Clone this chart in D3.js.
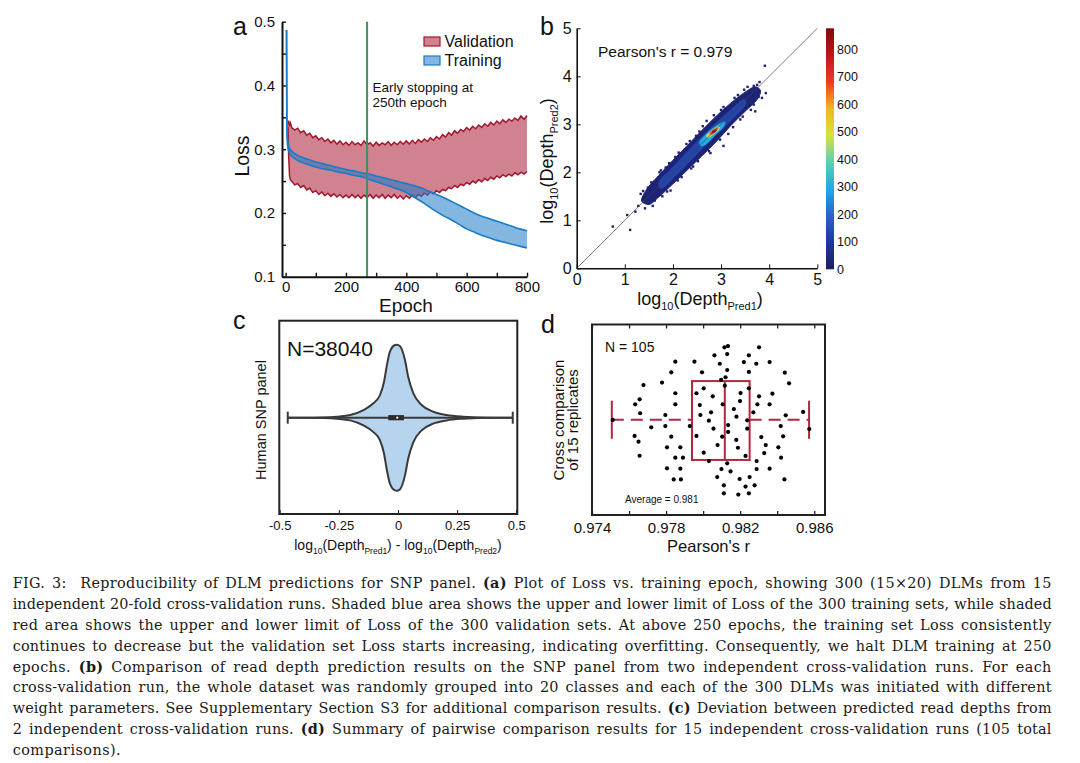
<!DOCTYPE html>
<html>
<head>
<meta charset="utf-8">
<script src="https://cdn.jsdelivr.net/npm/d3@7"></script>
<style>
body { margin: 0; background: #fff; }
svg { display: block; }
text { font-family: "Liberation Sans", Arial, sans-serif; fill: #111; }
.cap { font-family: "DejaVu Serif", "Liberation Serif", serif; font-size: 14.4px; white-space: pre; fill: #1a1a1a; }
</style>
</head>
<body>
<svg></svg>
<script>
// ---------- panel a: loss vs epoch ----------
let trainEpochs = [3, 4, 6, 10, 15, 25].concat(d3.range(50, 801, 25))
let trainHi = [0.487, 0.350, 0.318, 0.306, 0.300, 0.295,
  0.288, 0.284, 0.280, 0.277, 0.274, 0.271, 0.268, 0.266, 0.263, 0.261, 0.258, 0.255, 0.252, 0.249, 0.246, 0.243,
  0.239, 0.234, 0.229, 0.224, 0.218, 0.212, 0.206, 0.200, 0.195, 0.191, 0.187, 0.183, 0.179, 0.175, 0.172]
let trainLo = [0.487, 0.345, 0.308, 0.298, 0.292, 0.287,
  0.280, 0.276, 0.272, 0.269, 0.267, 0.264, 0.262, 0.259, 0.257, 0.253, 0.249, 0.245, 0.241, 0.237, 0.232, 0.225,
  0.218, 0.210, 0.202, 0.195, 0.189, 0.182, 0.175, 0.170, 0.165, 0.161, 0.157, 0.154, 0.151, 0.148, 0.145]

let valEpochs = [8, 10, 13, 16, 20].concat(d3.range(30, 801, 10))
let valHi = [0.338, 0.345, 0.336, 0.341, 0.334,
  0.330, 0.333, 0.326, 0.329, 0.322, 0.325, 0.318, 0.321, 0.315, 0.318,
  0.312, 0.316, 0.310, 0.314, 0.308, 0.313, 0.307, 0.311, 0.306, 0.312,
  0.307, 0.310, 0.306, 0.313, 0.307, 0.310, 0.305, 0.311, 0.306, 0.310,
  0.307, 0.312, 0.306, 0.311, 0.307, 0.312, 0.308, 0.313, 0.308, 0.314,
  0.309, 0.315, 0.311, 0.316, 0.312, 0.318, 0.314, 0.320, 0.316, 0.323,
  0.319, 0.326, 0.322, 0.329, 0.325, 0.331, 0.328, 0.334, 0.330, 0.336,
  0.332, 0.338, 0.334, 0.340, 0.336, 0.342, 0.338, 0.344, 0.340, 0.346,
  0.342, 0.347, 0.344, 0.349, 0.345, 0.352, 0.347, 0.353]
let valLo = [0.335, 0.290, 0.258, 0.252, 0.250,
  0.244, 0.246, 0.240, 0.243, 0.236, 0.239, 0.232, 0.235, 0.229, 0.233,
  0.227, 0.231, 0.226, 0.230, 0.225, 0.229, 0.224, 0.228, 0.224, 0.229,
  0.224, 0.228, 0.223, 0.228, 0.224, 0.229, 0.223, 0.228, 0.224, 0.229,
  0.223, 0.228, 0.224, 0.229, 0.223, 0.227, 0.222, 0.227, 0.223, 0.228,
  0.224, 0.229, 0.226, 0.231, 0.228, 0.233, 0.230, 0.235, 0.232, 0.237,
  0.235, 0.240, 0.238, 0.243, 0.240, 0.245, 0.243, 0.248, 0.245, 0.250,
  0.247, 0.252, 0.249, 0.254, 0.251, 0.256, 0.253, 0.258, 0.255, 0.260,
  0.257, 0.261, 0.258, 0.263, 0.260, 0.264, 0.261, 0.265]
let earlyStop = 270
let lossTicks = [0.1, 0.15, 0.2, 0.25, 0.3, 0.35, 0.4, 0.45, 0.5]
let epochTicks = [0, 100, 200, 300, 400, 500, 600, 700, 800]

// ---------- panel b: density scatter (level outlines) ----------
let densCounts = [20, 130, 300, 470, 660, 840]
let densShapes = [
  [[1.35, 1.40], [1.45, 1.64], [1.70, 1.93], [2.00, 2.25], [2.30, 2.56], [2.60, 2.87], [2.90, 3.17], [3.20, 3.44], [3.50, 3.67], [3.72, 3.78], [3.82, 3.70],
   [3.75, 3.52], [3.50, 3.27], [3.20, 2.97], [2.90, 2.64], [2.60, 2.34], [2.30, 2.05], [2.00, 1.76], [1.70, 1.48], [1.50, 1.33]],
  [[1.70, 1.78], [2.00, 2.11], [2.40, 2.54], [2.80, 2.94], [3.20, 3.30], [3.48, 3.52], [3.52, 3.44], [3.25, 3.12], [2.85, 2.73], [2.45, 2.33], [2.05, 1.92], [1.75, 1.66]],
  [[2.55, 2.62], [2.75, 2.85], [2.95, 3.00], [3.08, 3.05], [3.05, 2.95], [2.88, 2.78], [2.68, 2.58], [2.58, 2.55]],
  [[2.70, 2.77], [2.84, 2.89], [2.96, 2.96], [2.96, 2.90], [2.84, 2.79], [2.72, 2.72]],
  [[2.76, 2.81], [2.87, 2.90], [2.93, 2.92], [2.90, 2.86], [2.80, 2.79]],
  [[2.81, 2.84], [2.88, 2.89], [2.90, 2.87], [2.83, 2.82]]
]
let outX = [0.75, 1.11, 1.05, 1.22, 1.28, 1.33, 1.42, 1.48, 1.58, 1.62, 1.78, 1.85, 1.95, 2.05, 2.18, 2.35, 2.42, 2.55, 2.70, 2.78,
  3.05, 3.00, 3.15, 3.28, 3.40, 3.55, 3.62, 3.71, 3.80, 3.85, 3.93, 3.91, 3.75, 3.68, 2.25, 1.72,
  1.55, 1.75, 1.92, 2.12, 2.28, 2.48, 2.62, 2.85, 3.05, 3.35, 3.48, 1.62, 1.88, 2.10, 2.38, 2.52, 2.75, 2.98, 3.25, 3.45, 3.68, 3.78, 1.45, 1.38]
let outY = [0.87, 0.80, 1.11, 1.18, 1.30, 1.55, 1.25, 1.68, 1.30, 1.80, 1.50, 2.10, 1.62, 2.32, 1.90, 2.65, 2.12, 2.85, 3.07, 2.40,
  2.55, 3.30, 2.80, 3.55, 3.10, 3.78, 3.30, 3.27, 3.88, 3.55, 3.65, 4.22, 3.82, 3.80, 2.48, 2.00,
  1.79, 2.04, 2.19, 2.41, 2.59, 2.76, 2.96, 3.19, 3.36, 3.61, 3.72, 1.41, 1.60, 1.83, 2.08, 2.23, 2.44, 2.68, 2.94, 3.16, 3.41, 3.57, 1.46, 1.61]
let depthTicks = [0, 1, 2, 3, 4, 5]
let cbarTicks = [0, 100, 200, 300, 400, 500, 600, 700, 800]
let cbarMax = 876

// ---------- panel c: violin ----------
let vX = [-0.466, -0.40, -0.315, -0.258, -0.202, -0.146, -0.104, -0.076, -0.059, -0.048, -0.034, -0.0126, -0.005, 0.008, 0.0295, 0.043, 0.065, 0.10, 0.149, 0.205, 0.275, 0.40, 0.485]
let vDens = [0, 0, 0.004, 0.014, 0.037, 0.105, 0.197, 0.311, 0.493, 0.699, 0.904, 0.996, 1.0, 0.982, 0.790, 0.562, 0.334, 0.174, 0.082, 0.037, 0.014, 0, 0]
let vBox = { min: -0.466, q1: -0.041, med: -0.003, q3: 0.025, max: 0.485 }
let devTicks = [-0.5, -0.25, 0, 0.25, 0.5]

// ---------- panel d: pairwise pearson r ----------
let pearsonR = [0.97850, 0.97953, 0.97828, 0.97994, 0.97678, 0.97778, 0.97850, 0.97964, 0.98003, 0.97657,
  0.97633, 0.97850, 0.97982, 0.97660, 0.97796, 0.97985, 0.97512, 0.97720, 0.97796, 0.97928,
  0.97630, 0.97651, 0.97828, 0.97964, 0.97657, 0.97805, 0.97877, 0.97850, 0.97891, 0.98003,
  0.97805, 0.97877, 0.97841, 0.97880,
  0.98115, 0.98134, 0.98302, 0.98061, 0.98130, 0.98247, 0.98090, 0.98220, 0.98287, 0.98359,
  0.98130, 0.98247, 0.98441, 0.98097, 0.98121, 0.98464, 0.98117, 0.98247, 0.98202, 0.98052,
  0.98199, 0.98302, 0.98374, 0.98293, 0.98359, 0.98106, 0.98166, 0.98271, 0.98043, 0.98180,
  0.98446, 0.98540, 0.98031, 0.98238, 0.98419, 0.98056, 0.98135, 0.98135, 0.98238, 0.98573,
  0.98103, 0.98179, 0.98314, 0.98432, 0.98078, 0.98188, 0.98338, 0.98406, 0.98229, 0.98330,
  0.98031, 0.98130, 0.98421, 0.98099, 0.98148, 0.98289, 0.98289, 0.98359, 0.98076, 0.98197,
  0.98251, 0.98439, 0.98112, 0.98229, 0.98278, 0.98112, 0.98190, 0.98247]
let jitter = [0.805, 0.805, 0.749, 0.749, 0.682, 0.695, 0.639, 0.639, 0.665, 0.607,
  0.581, 0.581, 0.577, 0.534, 0.525, 0.525, 0.499, 0.460, 0.467, 0.467,
  0.415, 0.385, 0.411, 0.415, 0.311, 0.355, 0.355, 0.301, 0.301, 0.327,
  0.245, 0.243, 0.187, 0.187,
  0.880, 0.887, 0.880, 0.838, 0.845, 0.838, 0.794, 0.803, 0.794, 0.803,
  0.761, 0.751, 0.747, 0.709, 0.723, 0.691, 0.679, 0.665, 0.640, 0.623,
  0.598, 0.623, 0.637, 0.581, 0.581, 0.581, 0.556, 0.539, 0.539, 0.516,
  0.523, 0.541, 0.495, 0.497, 0.467, 0.453, 0.472, 0.436, 0.453, 0.451,
  0.411, 0.394, 0.409, 0.413, 0.367, 0.353, 0.367, 0.355, 0.310, 0.325,
  0.283, 0.271, 0.301, 0.241, 0.229, 0.283, 0.241, 0.243, 0.199, 0.189,
  0.199, 0.187, 0.156, 0.149, 0.156, 0.114, 0.107, 0.114]
let rBox = { min: 0.97507, q1: 0.97940, med: 0.98117, q3: 0.98251, max: 0.98572 }
let rTicks = [0.974, 0.976, 0.978, 0.980, 0.982, 0.984, 0.986]

// ---------- caption ----------
let captionLines = [
  [['FIG. 3:  Reproducibility of DLM predictions for SNP panel. ', 0], ['(a)', 1], [' Plot of Loss vs. training epoch, showing 300 (15\u00d720) DLMs from 15', 0]],
  [['independent 20-fold cross-validation runs. Shaded blue area shows the upper and lower limit of Loss of the 300 training sets, while shaded', 0]],
  [['red area shows the upper and lower limit of Loss of the 300 validation sets. At above 250 epochs, the training set Loss consistently', 0]],
  [['continues to decrease but the validation set Loss starts increasing, indicating overfitting. Consequently, we halt DLM training at 250', 0]],
  [['epochs. ', 0], ['(b)', 1], [' Comparison of read depth prediction results on the SNP panel from two independent cross-validation runs. For each', 0]],
  [['cross-validation run, the whole dataset was randomly grouped into 20 classes and each of the 300 DLMs was initiated with different', 0]],
  [['weight parameters. See Supplementary Section S3 for additional comparison results. ', 0], ['(c)', 1], [' Deviation between predicted read depths from', 0]],
  [['2 independent cross-validation runs. ', 0], ['(d)', 1], [' Summary of pairwise comparison results for 15 independent cross-validation runs (105 total', 0]],
  [['comparisons).', 0]]
]

let svg = d3.select('svg').attr('width', 1080).attr('height', 763)

// text with subscript parts: [text, isSub]
let subText = (sel, parts, big, small) => {
  let inSub = false
  parts.forEach(p => {
    let t = sel.append('tspan').attr('font-size', p[1] ? small : big).text(p[0])
    if (p[1] && !inSub) t.attr('dy', big * 0.28)
    if (!p[1] && inSub) t.attr('dy', -big * 0.28)
    inSub = !!p[1]
  })
}

let panelLetter = (x, y, s) => svg.append('text').attr('x', x).attr('y', y)
  .attr('font-size', 25).text(s)

let styleTicks = (a, size) => a.selectAll('text').attr('font-size', size).attr('fill', '#111')
  .attr('font-family', '"Liberation Sans", Arial, sans-serif')

// ================= panel a =================
let drawLoss = () => {
  let ax = d3.scaleLinear().domain([-12, 800]).range([282, 527])
  let ay = d3.scaleLinear().domain([0.1, 0.5]).range([276.7, 21.7])
  let g = svg.append('g')

  let val = valEpochs.map((e, i) => ({ e: e, hi: valHi[i], lo: valLo[i] }))
  let tr = trainEpochs.map((e, i) => ({ e: e, hi: trainHi[i], lo: trainLo[i] }))
  let band = d3.area().x(d => ax(d.e)).y0(d => ay(d.lo)).y1(d => ay(d.hi))
  let hiLine = d3.line().x(d => ax(d.e)).y(d => ay(d.hi))
  let loLine = d3.line().x(d => ax(d.e)).y(d => ay(d.lo))

  g.append('path').datum(val).attr('d', band).attr('fill', 'rgba(172,28,52,0.55)')
  g.append('path').datum(val).attr('d', hiLine).attr('fill', 'none').attr('stroke', '#a3172d').attr('stroke-width', 1.5)
  g.append('path').datum(val).attr('d', loLine).attr('fill', 'none').attr('stroke', '#a3172d').attr('stroke-width', 1.5)

  let smooth = d3.curveMonotoneX
  g.append('path').datum(tr).attr('d', band.curve(smooth)).attr('fill', 'rgba(30,122,200,0.55)')
  g.append('path').datum(tr).attr('d', hiLine.curve(smooth)).attr('fill', 'none').attr('stroke', '#1b7bc6').attr('stroke-width', 1.6)
  g.append('path').datum(tr).attr('d', loLine.curve(smooth)).attr('fill', 'none').attr('stroke', '#1b7bc6').attr('stroke-width', 1.6)

  g.append('line').attr('x1', ax(earlyStop)).attr('x2', ax(earlyStop))
    .attr('y1', ay(0.5)).attr('y2', ay(0.1)).attr('stroke', '#3f8f60').attr('stroke-width', 2)

  let yAxis = d3.axisLeft(ay).tickValues(lossTicks).tickSize(-4).tickSizeOuter(0).tickPadding(7)
    .tickFormat(d => Math.round(d * 100) % 10 === 0 ? d.toFixed(1) : '')
  let ya = g.append('g').attr('transform', 'translate(282,0)').call(yAxis)
  let xAxis = d3.axisBottom(ax).tickValues(epochTicks).tickSize(-4).tickSizeOuter(0).tickPadding(5)
    .tickFormat(d => d % 200 === 0 ? d : '')
  let xa = g.append('g').attr('transform', 'translate(0,276.7)').call(xAxis)
  ;[ya, xa].forEach(a => {
    a.select('.domain').attr('stroke', '#111').attr('stroke-width', 2)
    a.selectAll('.tick line').attr('stroke', '#111').attr('stroke-width', 1.4)
    styleTicks(a, 15)
  })

  g.append('text').attr('x', 406).attr('y', 312).attr('text-anchor', 'middle').attr('font-size', 19).text('Epoch')
  g.append('text').attr('transform', 'translate(249,156) rotate(-90)').attr('text-anchor', 'middle').attr('font-size', 19.5).text('Loss')

  g.append('text').attr('x', 372.5).attr('y', 91.7).attr('font-size', 13.5).attr('fill', '#333').text('Early stopping at')
  g.append('text').attr('x', 372.5).attr('y', 106.7).attr('font-size', 13.5).attr('fill', '#333').text('250th epoch')

  let legend = [['Validation', 'rgba(172,28,52,0.55)', '#a3172d', 37], ['Training', 'rgba(30,122,200,0.55)', '#1b7bc6', 56]]
  legend.forEach(l => {
    g.append('rect').attr('x', 424).attr('y', l[3]).attr('width', 16).attr('height', 9)
      .attr('fill', l[1]).attr('stroke', l[2]).attr('stroke-width', 1.2)
    g.append('text').attr('x', 444.5).attr('y', l[3] + 10).attr('font-size', 16).text(l[0])
  })
  panelLetter(233, 35, 'a')
}

// ================= panel b =================
let drawScatter = () => {
  let bx = d3.scaleLinear().domain([0, 5]).range([576.7, 817.3])
  let by = d3.scaleLinear().domain([0, 5]).range([268.3, 28.3])
  let jet = ['#1c1e6c', '#223499', '#2565cc', '#20a8e6', '#5cd0b2', '#d4e23c', '#f6b425', '#ec3c1f', '#c0151b', '#7c0b0b']
  let color = d3.scaleLinear().domain(jet.map((c, i) => i * cbarMax / (jet.length - 1))).range(jet)
  let g = svg.append('g')

  let shape = d3.line().x(d => bx(d[0])).y(d => by(d[1])).curve(d3.curveCatmullRomClosed)
  densShapes.forEach((s, i) => {
    g.append('path').datum(s).attr('d', shape).attr('fill', color(densCounts[i]))
      .attr('stroke', color(densCounts[i])).attr('stroke-width', i === 0 ? 1 : 0.6)
  })

  g.selectAll('rect.out').data(outX).enter().append('rect').attr('class', 'out')
    .attr('x', d => bx(d) - 1.2).attr('y', (d, i) => by(outY[i]) - 1.2)
    .attr('width', 2.4).attr('height', 2.4).attr('fill', color(15))

  g.append('line').attr('x1', bx(0)).attr('y1', by(0)).attr('x2', bx(5)).attr('y2', by(5))
    .attr('stroke', '#444').attr('stroke-width', 0.7)

  let xa = g.append('g').attr('transform', 'translate(0,268.3)')
    .call(d3.axisBottom(bx).tickValues(depthTicks).tickSize(-4).tickSizeOuter(0).tickPadding(5).tickFormat(d3.format('d')))
  let ya = g.append('g').attr('transform', 'translate(576.7,0)')
    .call(d3.axisLeft(by).tickValues(depthTicks).tickSize(-4).tickSizeOuter(0).tickPadding(5).tickFormat(d3.format('d')))
  ;[xa, ya].forEach(a => {
    a.select('.domain').attr('stroke', '#111').attr('stroke-width', 1.6)
    a.selectAll('.tick line').attr('stroke', '#111')
    styleTicks(a, 16)
  })

  // colour bar
  let cy = d3.scaleLinear().domain([0, cbarMax]).range([269.3, 28.3])
  let grad = svg.append('defs').append('linearGradient').attr('id', 'jetGrad')
    .attr('x1', 0).attr('y1', 1).attr('x2', 0).attr('y2', 0)
  jet.forEach((c, i) => grad.append('stop').attr('offset', i / (jet.length - 1)).attr('stop-color', c))
  g.append('rect').attr('x', 826).attr('y', cy(cbarMax)).attr('width', 8).attr('height', cy(0) - cy(cbarMax))
    .attr('fill', 'url(#jetGrad)')
  let ca = g.append('g').attr('transform', 'translate(834,0)')
    .call(d3.axisRight(cy).tickValues(cbarTicks).tickSize(0).tickPadding(3))
  ca.select('.domain').remove()
  styleTicks(ca, 12.5)

  g.append('text').attr('x', 598).attr('y', 56.7).attr('font-size', 15.5).text("Pearson's r = 0.979")

  let xl = g.append('text').attr('x', 700).attr('y', 305).attr('text-anchor', 'middle')
  subText(xl, [['log', 0], ['10', 1], ['(Depth', 0], ['Pred1', 1], [')', 0]], 18, 11)
  let yl = g.append('text').attr('transform', 'translate(553,161) rotate(-90)').attr('text-anchor', 'middle')
  subText(yl, [['log', 0], ['10', 1], ['(Depth', 0], ['Pred2', 1], [')', 0]], 18, 11)
  panelLetter(540, 35, 'b')
}

// ================= panel c =================
let drawViolin = () => {
  let cx = d3.scaleLinear().domain([-0.5, 0.5]).range([279.7, 516.3])
  let cw = d3.scaleLinear().domain([0, 1]).range([0, 73])
  let mid = 417.7
  let g = svg.append('g')

  let pts = vX.map((x, i) => ({ x: x, d: vDens[i] }))
  let vArea = d3.area().x(d => cx(d.x)).y0(d => mid + cw(d.d)).y1(d => mid - cw(d.d)).curve(d3.curveMonotoneX)
  g.append('path').datum(pts).attr('d', vArea).attr('fill', '#b6d4ee')
    .attr('stroke', '#3a3a3a').attr('stroke-width', 2)

  g.append('line').attr('x1', cx(vBox.min)).attr('x2', cx(vBox.max)).attr('y1', mid).attr('y2', mid)
    .attr('stroke', '#3a3a3a').attr('stroke-width', 2)
  ;[vBox.min, vBox.max].forEach(v => g.append('line').attr('x1', cx(v)).attr('x2', cx(v))
    .attr('y1', mid - 6).attr('y2', mid + 6).attr('stroke', '#3a3a3a').attr('stroke-width', 2))
  g.append('rect').attr('x', cx(vBox.q1)).attr('y', mid - 2.6).attr('width', cx(vBox.q3) - cx(vBox.q1))
    .attr('height', 5.2).attr('fill', '#2b2b2b')
  g.append('circle').attr('cx', cx(vBox.med)).attr('cy', mid).attr('r', 1.1).attr('fill', '#fff')

  g.append('rect').attr('x', 279.3).attr('y', 320.7).attr('width', 238).attr('height', 193.3)
    .attr('fill', 'none').attr('stroke', '#222').attr('stroke-width', 2)
  let xa = g.append('g').attr('transform', 'translate(0,514)')
    .call(d3.axisBottom(cx).tickValues(devTicks).tickSize(-4).tickSizeOuter(0).tickPadding(7)
      .tickFormat(d => String(d)))
  xa.select('.domain').remove()
  xa.selectAll('.tick line').attr('stroke', '#222')
  styleTicks(xa, 13)

  g.append('text').attr('x', 287).attr('y', 356).attr('font-size', 21).text('N=38040')
  let xl = g.append('text').attr('x', 398).attr('y', 550).attr('text-anchor', 'middle')
  subText(xl, [['log', 0], ['10', 1], ['(Depth', 0], ['Pred1', 1], [') - log', 0], ['10', 1], ['(Depth', 0], ['Pred2', 1], [')', 0]], 14, 8.5)
  g.append('text').attr('transform', 'translate(265.5,420) rotate(-90)').attr('text-anchor', 'middle')
    .attr('font-size', 14.5).text('Human SNP panel')
  panelLetter(233, 329, 'c')
}

// ================= panel d =================
let drawPearson = () => {
  let dx = d3.scaleLinear().domain([0.974, 0.98658]).range([592, 825])
  let dy = d3.scaleLinear().domain([0, 1]).range([515, 324.5])
  let g = svg.append('g')
  let red = '#b3263d'

  g.append('line').attr('x1', dx(rBox.min)).attr('x2', dx(rBox.q1)).attr('y1', dy(0.5)).attr('y2', dy(0.5))
    .attr('stroke', red).attr('stroke-width', 2).attr('stroke-dasharray', '12,7')
  g.append('line').attr('x1', dx(rBox.q3)).attr('x2', dx(rBox.max)).attr('y1', dy(0.5)).attr('y2', dy(0.5))
    .attr('stroke', red).attr('stroke-width', 2).attr('stroke-dasharray', '12,7')
  ;[rBox.min, rBox.max].forEach(v => g.append('line').attr('x1', dx(v)).attr('x2', dx(v))
    .attr('y1', dy(0.6)).attr('y2', dy(0.4)).attr('stroke', red).attr('stroke-width', 2))
  g.append('rect').attr('x', dx(rBox.q1)).attr('y', dy(0.703)).attr('width', dx(rBox.q3) - dx(rBox.q1))
    .attr('height', dy(0.289) - dy(0.703)).attr('fill', 'none').attr('stroke', red).attr('stroke-width', 2)
  g.append('line').attr('x1', dx(rBox.med)).attr('x2', dx(rBox.med)).attr('y1', dy(0.703)).attr('y2', dy(0.289))
    .attr('stroke', red).attr('stroke-width', 2)

  g.selectAll('circle.pt').data(pearsonR).enter().append('circle').attr('class', 'pt')
    .attr('cx', d => dx(d)).attr('cy', (d, i) => dy(jitter[i])).attr('r', 2.1).attr('fill', '#000')

  g.append('rect').attr('x', 592).attr('y', 324.5).attr('width', 233).attr('height', 190.5)
    .attr('fill', 'none').attr('stroke', '#222').attr('stroke-width', 2)
  let fmt = d => [0.974, 0.978, 0.982, 0.986].some(v => Math.abs(v - d) < 1e-6) ? d.toFixed(3) : ''
  let xa = g.append('g').attr('transform', 'translate(0,515)')
    .call(d3.axisBottom(dx).tickValues(rTicks).tickSize(-4).tickSizeOuter(0).tickPadding(7).tickFormat(fmt))
  let ta = g.append('g').attr('transform', 'translate(0,324.5)')
    .call(d3.axisTop(dx).tickValues(rTicks).tickSize(-4).tickSizeOuter(0).tickFormat(''))
  ;[xa, ta].forEach(a => {
    a.select('.domain').remove()
    a.selectAll('.tick line').attr('stroke', '#222').attr('stroke-width', 1.3)
  })
  styleTicks(xa, 15)

  g.append('text').attr('x', 605).attr('y', 352).attr('font-size', 14).attr('fill', '#222').text('N = 105')
  g.append('text').attr('x', 625).attr('y', 503).attr('font-size', 10).attr('fill', '#222').text('Average = 0.981')
  g.append('text').attr('x', 708.5).attr('y', 552).attr('text-anchor', 'middle').attr('font-size', 16.5).text("Pearson's r")
  g.append('text').attr('transform', 'translate(564,420) rotate(-90)').attr('text-anchor', 'middle')
    .attr('font-size', 15).text('Cross comparison')
  g.append('text').attr('transform', 'translate(577.5,420) rotate(-90)').attr('text-anchor', 'middle')
    .attr('font-size', 15).text('of 15 replicates')
  panelLetter(541, 333, 'd')
}

// ================= caption =================
// justified lines: part of the slack goes into letter spacing, the rest into word spacing
let drawCaption = () => {
  let left = 12.7, width = 1039
  captionLines.forEach((segs, i) => {
    let t = svg.append('text').attr('class', 'cap').attr('x', left).attr('y', 588.3 + i * 20.8)
    segs.forEach(s => t.append('tspan').attr('font-weight', s[1] ? 'bold' : null).text(s[0]))
    let str = segs.map(s => s[0]).join('')
    let len = t.node().getComputedTextLength()
    let ls = Math.max(0, Math.min(0.45, (width - len) * 0.45 / str.length))
    t.style('letter-spacing', ls + 'px')
    if (i < captionLines.length - 1) {
      let len2 = t.node().getComputedTextLength()
      let spaces = str.split(' ').length - 1
      t.style('word-spacing', ((width - len2) / spaces) + 'px')
    }
  })
}

drawLoss()
drawScatter()
drawViolin()
drawPearson()
drawCaption()
</script>
</body>
</html>
